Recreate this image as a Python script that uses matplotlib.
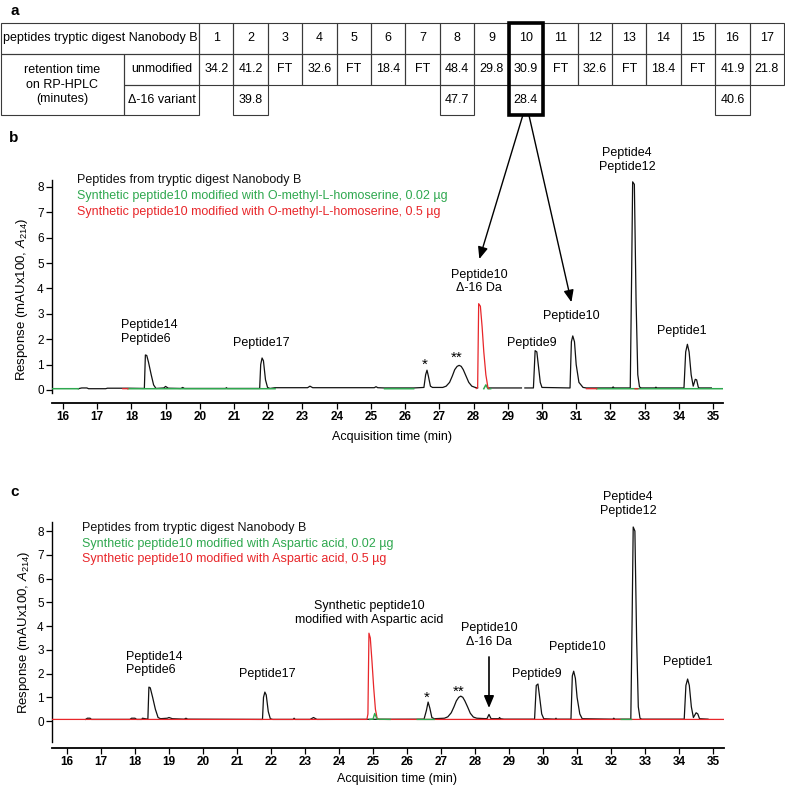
import matplotlib
matplotlib.use("Agg")
import matplotlib.pyplot as plt
from matplotlib.patches import Rectangle
import numpy as np

plt.rcParams['font.family'] = ['Liberation Sans', 'DejaVu Sans']
plt.rcParams['mathtext.fontset'] = 'custom'
plt.rcParams['mathtext.rm'] = 'Liberation Sans'
plt.rcParams['mathtext.it'] = 'Liberation Sans:italic'

nan = np.nan

# ---------------- table (panel a) -----------------
peptide_ids = ['1', '2', '3', '4', '5', '6', '7', '8', '9', '10', '11', '12', '13', '14', '15', '16', '17']
rt_unmodified = ['34.2', '41.2', 'FT', '32.6', 'FT', '18.4', 'FT', '48.4', '29.8', '30.9',
                 'FT', '32.6', 'FT', '18.4', 'FT', '41.9', '21.8']
rt_delta16 = [None, '39.8', None, None, None, None, None, '47.7', None, '28.4',
              None, None, None, None, None, '40.6', None]
highlight_peptide = '10'

# ---------------- chromatogram traces, panel b -----------------
b_black_t = [16.45, 16.55, 16.7, 16.75, 17.25, 17.3, 17.9, 18.38, 18.41, 18.45, 18.5, 18.58, 18.65, 18.72,
             18.95, 19.0, 19.08, 19.45, 19.5, 19.55, 20.75, 20.78, 20.8, 21.75, 21.78, 21.82, 21.86, 21.92,
             21.98, 22.05, 22.2, 23.15, 23.22, 23.3, 25.1, 25.15, 25.2, 25.4, 26.25, 26.55, 26.6, 26.64,
             26.68, 26.74, 26.8, 27.1, 27.2, 27.3, 27.38, 27.45, 27.52, 27.58, 27.64, 27.7, 27.78, 27.86,
             27.95, 28.05, 28.12, nan, 28.45, 29.4, nan, 29.5, 29.75, 29.8, 29.85, 29.9, 29.95, 30.0, 30.82,
             30.86, 30.9, 30.95, 31.0, 31.08, 31.2, 31.3, 32.05, 32.08, 32.11, 32.58, 32.62, 32.65, 32.7,
             32.75, 32.8, 32.85, 32.9, 33.3, 33.33, 33.36, 34.15, 34.2, 34.25, 34.3, 34.36, 34.42, 34.48,
             34.52, 34.57, 34.6, 34.95]
b_black_y = [0.05, 0.08, 0.08, 0.05, 0.05, 0.07, 0.07, 0.06, 1.38, 1.36, 1.1, 0.6, 0.2, 0.06,
             0.08, 0.14, 0.07, 0.06, 0.1, 0.06, 0.06, 0.09, 0.06, 0.06, 1.0, 1.26, 1.15, 0.4,
             0.1, 0.06, 0.09, 0.09, 0.15, 0.09, 0.09, 0.13, 0.09, 0.08, 0.08, 0.1, 0.6, 0.78,
             0.55, 0.15, 0.1, 0.1, 0.15, 0.3, 0.55, 0.8, 0.93, 0.97, 0.93, 0.8, 0.55, 0.3,
             0.15, 0.1, 0.08, nan, 0.08, 0.08, nan, 0.08, 0.08, 1.55, 1.5, 0.9, 0.3, 0.1, 0.08,
             1.9, 2.13, 1.9, 1.0, 0.3, 0.1, 0.08, 0.08, 0.12, 0.08, 0.08, 4.5, 8.2, 8.1,
             3.5, 0.6, 0.12, 0.08, 0.08, 0.11, 0.08, 0.08, 1.5, 1.8, 1.5, 0.6, 0.15, 0.42,
             0.4, 0.1, 0.08, 0.08]
b_green_t = [15.68, 16.45, nan, 17.9, 22.2, nan, 25.4, 26.25, nan, 28.3, 28.36, 28.42, 28.5, nan, 31.6, 35.29]
b_green_y = [0.05, 0.05, nan, 0.05, 0.05, nan, 0.05, 0.05, nan, 0.05, 0.2, 0.05, 0.05, nan, 0.05, 0.05]
b_red_t = [17.75, 17.9, nan, 28.08, 28.12, 28.15, 28.2, 28.25, 28.3, 28.36, 28.42, 28.45, nan,
           31.3, 31.6, nan, 32.72, 32.8]
b_red_y = [0.05, 0.05, nan, 0.06, 0.1, 3.4, 3.3, 2.5, 1.5, 0.6, 0.1, 0.06, nan,
           0.05, 0.05, nan, 0.05, 0.05]

# ---------------- chromatogram traces, panel c -----------------
c_black_t = [16.55, 16.6, 16.68, 16.72, 17.85, 17.9, 18.0, 18.05, 18.2, 18.22, 18.3, 18.38, 18.41, 18.45,
             18.52, 18.6, 18.68, 18.75, 18.95, 19.0, 19.1, 19.45, 19.5, 19.55, 21.75, 21.78, 21.82, 21.86,
             21.92, 21.98, 22.05, 22.65, 22.68, 22.71, 23.15, 23.25, 23.35, 26.5, 26.57, 26.62, 26.67,
             26.73, 26.8, 27.1, 27.2, 27.3, 27.38, 27.45, 27.52, 27.58, 27.64, 27.7, 27.78, 27.86, 27.95,
             28.05, 28.35, 28.41, 28.47, 28.7, 28.72, 28.75, 28.85, 29.75, 29.8, 29.85, 29.9, 29.96, 30.02,
             30.35, 30.38, 30.4, 30.82, 30.86, 30.9, 30.95, 31.0, 31.08, 31.15, 32.05, 32.08, 32.11, 32.58,
             32.62, 32.65, 32.7, 32.75, 32.8, 32.85, 32.9, 34.15, 34.2, 34.25, 34.3, 34.36, 34.42, 34.5,
             34.55, 34.6, 34.85]
c_black_y = [0.07, 0.12, 0.12, 0.07, 0.07, 0.12, 0.12, 0.07, 0.07, 0.12, 0.1, 0.08, 1.43, 1.4,
             1.0, 0.5, 0.15, 0.1, 0.12, 0.15, 0.1, 0.08, 0.12, 0.08, 0.07, 1.0, 1.22, 1.1,
             0.4, 0.1, 0.07, 0.07, 0.12, 0.07, 0.07, 0.15, 0.07, 0.08, 0.45, 0.8, 0.55,
             0.15, 0.1, 0.12, 0.18, 0.35, 0.6, 0.85, 1.0, 1.05, 1.0, 0.85, 0.6, 0.33, 0.17,
             0.12, 0.1, 0.28, 0.1, 0.1, 0.15, 0.1, 0.08, 0.08, 1.5, 1.56, 1.0, 0.3, 0.1,
             0.08, 0.12, 0.08, 0.08, 1.9, 2.1, 1.8, 1.0, 0.3, 0.1, 0.08, 0.12, 0.08, 0.08,
             4.5, 8.17, 8.0, 3.5, 0.6, 0.12, 0.08, 0.08, 1.5, 1.77, 1.5, 0.6, 0.15, 0.35,
             0.3, 0.1, 0.08]
c_red_t = [15.56, 24.82, 24.85, 24.88, 24.92, 24.97, 25.02, 25.07, 25.12, 25.18, 35.32]
c_red_y = [0.07, 0.07, 0.3, 3.7, 3.5, 2.5, 1.4, 0.5, 0.12, 0.07, 0.07]
c_green_t = [24.9, 25.0, 25.05, 25.12, 25.5, nan, 26.3, 26.8, nan, 32.3, 32.6]
c_green_y = [0.07, 0.08, 0.32, 0.08, 0.07, nan, 0.07, 0.07, nan, 0.07, 0.07]

x_ticks = [16, 17, 18, 19, 20, 21, 22, 23, 24, 25, 26, 27, 28, 29, 30, 31, 32, 33, 34, 35]
y_ticks = [0, 1, 2, 3, 4, 5, 6, 7, 8]

BLACK = '#111111'
GREEN = '#2fa84f'
RED = '#e8262a'

fig = plt.figure(figsize=(7.85, 7.87), dpi=100)

# overlay in pixel coordinates for the table and the panel letters
ov = fig.add_axes([0, 0, 1, 1])
ov.set_xlim(0, 785)
ov.set_ylim(787, 0)
ov.axis('off')

ax_b = fig.add_axes([0.0662, 0.5006, 0.8548, 0.2706])
ax_c = fig.add_axes([0.0662, 0.0572, 0.8561, 0.2795])

NARROW = ['Liberation Sans Narrow', 'Liberation Sans']


def style_axes(ax, xlim, ylim, offset):
    ax.set_xlim(*xlim)
    ax.set_ylim(*ylim)
    ax.spines['top'].set_visible(False)
    ax.spines['right'].set_visible(False)
    ax.spines['bottom'].set_position(('outward', offset))
    ax.spines['bottom'].set_linewidth(1.3)
    ax.spines['left'].set_linewidth(1.0)
    ax.set_xticks(x_ticks)
    ax.set_yticks(y_ticks)
    ax.tick_params(direction='out', length=4, width=0.9, pad=2)
    for lab in ax.get_xticklabels():
        lab.set_family(NARROW)
        lab.set_fontweight('bold')
        lab.set_fontsize(8.5)
    for lab in ax.get_yticklabels():
        lab.set_family(NARROW)
        lab.set_fontsize(8.5)
    ax.patch.set_visible(False)


style_axes(ax_b, (15.68, 35.29), (-0.12, 8.27), 7.2)
style_axes(ax_c, (15.56, 35.32), (-0.88, 8.38), 4.3)

# traces
ax_b.plot(b_black_t, b_black_y, color=BLACK, lw=0.9, zorder=2)
ax_b.plot(b_green_t, b_green_y, color=GREEN, lw=1.1, zorder=3)
ax_b.plot(b_red_t, b_red_y, color=RED, lw=0.9, zorder=4)

ax_c.plot(c_black_t, c_black_y, color=BLACK, lw=0.9, zorder=2)
ax_c.plot(c_red_t, c_red_y, color=RED, lw=0.9, zorder=3)
ax_c.plot(c_green_t, c_green_y, color=GREEN, lw=1.0, zorder=4)

for ax, ylc in ((ax_b, (-0.033, 0.44)), (ax_c, (-0.03, 0.5))):
    ax.set_ylabel('Response (mAUx100, $\\mathit{A}_{214}$)', fontsize=9.5)
    ax.yaxis.set_label_coords(*ylc)
    ax.set_xlabel('Acquisition time (min)', fontsize=9)
ax_b.xaxis.set_label_coords(0.507, -0.18)
ax_c.xaxis.set_label_coords(0.513, -0.14)

FS = 9
STAR = 11
# legends (panel b)
ax_b.text(16.41, 8.27, 'Peptides from tryptic digest Nanobody B', color=BLACK, fontsize=FS, va='center')
ax_b.text(16.41, 7.64, 'Synthetic peptide10 modified with O-methyl-L-homoserine, 0.02 \u00b5g',
          color=GREEN, fontsize=FS, va='center')
ax_b.text(16.41, 7.0, 'Synthetic peptide10 modified with O-methyl-L-homoserine, 0.5 \u00b5g',
          color=RED, fontsize=FS, va='center')
# labels (panel b)
ax_b.text(17.69, 2.28, 'Peptide14\nPeptide6', fontsize=FS, ha='left', va='center')
ax_b.text(21.81, 1.85, 'Peptide17', fontsize=FS, ha='center', va='center')
ax_b.text(26.57, 1.0, '*', fontsize=STAR, ha='center', va='center')
ax_b.text(27.5, 1.28, '**', fontsize=STAR, ha='center', va='center')
ax_b.text(28.17, 4.27, 'Peptide10\n\u0394-16 Da', fontsize=FS, ha='center', va='center')
ax_b.text(29.69, 1.85, 'Peptide9', fontsize=FS, ha='center', va='center')
ax_b.text(30.86, 2.91, 'Peptide10', fontsize=FS, ha='center', va='center')
ax_b.text(32.49, 9.07, 'Peptide4\nPeptide12', fontsize=FS, ha='center', va='center')
ax_b.text(34.1, 2.32, 'Peptide1', fontsize=FS, ha='center', va='center')

# legends (panel c)
ax_c.text(16.44, 8.13, 'Peptides from tryptic digest Nanobody B', color=BLACK, fontsize=FS, va='center')
ax_c.text(16.44, 7.45, 'Synthetic peptide10 modified with Aspartic acid, 0.02 \u00b5g',
          color=GREEN, fontsize=FS, va='center')
ax_c.text(16.44, 6.82, 'Synthetic peptide10 modified with Aspartic acid, 0.5 \u00b5g',
          color=RED, fontsize=FS, va='center')
# labels (panel c)
ax_c.text(17.74, 2.42, 'Peptide14\nPeptide6', fontsize=FS, ha='left', va='center')
ax_c.text(21.88, 1.98, 'Peptide17', fontsize=FS, ha='center', va='center')
ax_c.text(24.88, 4.55, 'Synthetic peptide10\nmodified with Aspartic acid', fontsize=FS,
          ha='center', va='center')
ax_c.text(26.59, 1.0, '*', fontsize=STAR, ha='center', va='center')
ax_c.text(27.53, 1.25, '**', fontsize=STAR, ha='center', va='center')
ax_c.text(28.41, 3.62, 'Peptide10\n\u0394-16 Da', fontsize=FS, ha='center', va='center')
ax_c.text(29.82, 1.98, 'Peptide9', fontsize=FS, ha='center', va='center')
ax_c.text(31.0, 3.12, 'Peptide10', fontsize=FS, ha='center', va='center')
ax_c.text(32.5, 9.14, 'Peptide4\nPeptide12', fontsize=FS, ha='center', va='center')
ax_c.text(34.26, 2.48, 'Peptide1', fontsize=FS, ha='center', va='center')
ax_c.annotate('', xy=(28.41, 0.55), xytext=(28.41, 2.7),
              arrowprops=dict(arrowstyle='-|>,head_length=0.6,head_width=0.25', color='black',
                              lw=1.2, mutation_scale=12, shrinkA=0, shrinkB=0))

# ---------------- table -----------------
R0, R1, R2, R3 = 22.7, 54.0, 85.0, 115.0
X0, XS, XH = 1.0, 124.0, 199.0
CW = (784.0 - XH) / len(peptide_ids)
TFS = 9
LC = '#3a3a3a'


def cell(x0, x1, y0, y1, txt):
    ov.add_patch(Rectangle((x0, y0), x1 - x0, y1 - y0, fill=False, ec=LC, lw=0.8))
    if txt:
        ov.text((x0 + x1) / 2, (y0 + y1) / 2, txt, ha='center', va='center', fontsize=TFS,
                linespacing=1.3)


cell(X0, XH, R0, R1, 'peptides tryptic digest Nanobody B')
cell(X0, XS, R1, R3, 'retention time\non RP-HPLC\n(minutes)')
cell(XS, XH, R1, R2, 'unmodified')
cell(XS, XH, R2, R3, '\u0394-16 variant')
for i, pid in enumerate(peptide_ids):
    x0 = XH + i * CW
    cell(x0, x0 + CW, R0, R1, pid)
    cell(x0, x0 + CW, R1, R2, rt_unmodified[i])
    if rt_delta16[i] is not None:
        cell(x0, x0 + CW, R2, R3, rt_delta16[i])
    if pid == highlight_peptide:
        ov.add_patch(Rectangle((x0, R0), CW, R3 - R0, fill=False, ec='black', lw=2.6, zorder=5))
        box_mid = x0 + CW / 2

# arrows from highlighted column to panel b peaks
arrow_kw = dict(arrowstyle='-|>,head_length=0.6,head_width=0.25', color='black', lw=1.0,
                mutation_scale=12, shrinkA=0, shrinkB=0)
ov.annotate('', xy=(28.17, 5.16), xycoords=ax_b.transData, xytext=(box_mid - 3, R3),
            textcoords='data', arrowprops=arrow_kw)
ov.annotate('', xy=(30.86, 3.46), xycoords=ax_b.transData, xytext=(box_mid + 3, R3),
            textcoords='data', arrowprops=arrow_kw)

# panel letters
for letter, (px, py) in zip(['a', 'b', 'c'], [(15, 11), (14, 138), (15, 492)]):
    ov.text(px, py, letter, fontsize=11, fontweight='bold', ha='center', va='center')

fig.savefig('out.png', dpi=100)
